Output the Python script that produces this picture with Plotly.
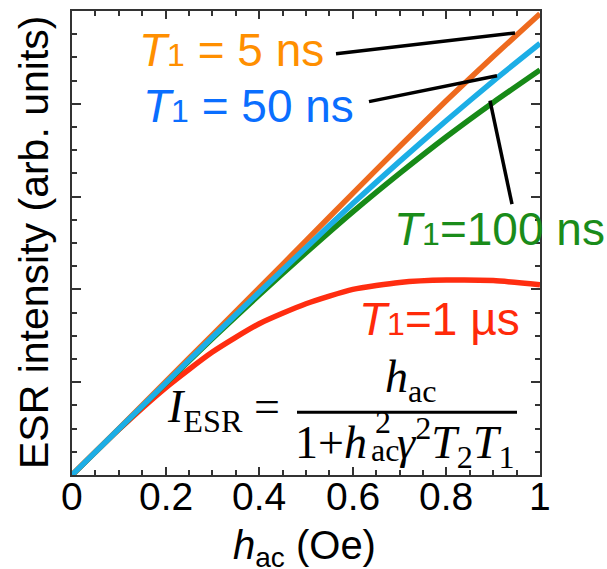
import plotly.graph_objects as go

# ---- data: ESR intensity vs. ac field amplitude for several T1 ----
h_ac = [0.0, 0.1, 0.2, 0.3, 0.4, 0.5, 0.6, 0.7, 0.8, 0.9, 1.0]
esr_5ns = [0.0, 0.100, 0.201, 0.302, 0.403, 0.505, 0.607, 0.708, 0.807, 0.902, 0.994]
esr_50ns = [0.0, 0.099, 0.198, 0.297, 0.394, 0.490, 0.585, 0.676, 0.764, 0.849, 0.930]
esr_100ns = [0.0, 0.099, 0.197, 0.294, 0.388, 0.479, 0.567, 0.650, 0.729, 0.803, 0.873]
esr_1us = [0.0, 0.098, 0.188, 0.265, 0.326, 0.369, 0.400, 0.415, 0.420, 0.419, 0.410]

x_ticks = [0, 0.2, 0.4, 0.6, 0.8, 1]
x_ticktext = ["0", "0.2", "0.4", "0.6", "0.8", "1"]

# ---- styling ----
LINE_ORANGE = "#EE6A1E"
LINE_BLUE = "#1CAEE6"
LINE_GREEN = "#178A17"
LINE_RED = "#FF2D10"
TXT_ORANGE = "#FF8F00"
TXT_BLUE = "#0A6EFF"
TXT_GREEN = "#1A8C1A"
TXT_RED = "#FF2A0A"
AXIS = "#333333"
SANS = "Liberation Sans, Arial, Helvetica, sans-serif"
SERIF = "Liberation Serif, Times New Roman, serif"

W, H = 607, 569
M = dict(l=72, r=67, t=9, b=94)
PW = W - M["l"] - M["r"]
PH = H - M["t"] - M["b"]


def fx(x):
    """figure pixel column -> paper coordinate"""
    return (x - M["l"]) / PW


def fy(y):
    """figure pixel row -> paper coordinate"""
    return (H - M["b"] - y) / PH


fig = go.Figure()

series = [
    ("T1 = 1 µs", esr_1us, LINE_RED),
    ("T1 = 100 ns", esr_100ns, LINE_GREEN),
    ("T1 = 5 ns", esr_5ns, LINE_ORANGE),
    ("T1 = 50 ns", esr_50ns, LINE_BLUE),
]
for name, ys, color in series:
    fig.add_trace(go.Scatter(
        x=h_ac, y=ys, mode="lines", name=name, showlegend=False,
        line=dict(color=color, width=5.5, shape="spline", smoothing=0.6),
    ))

axis_common = dict(
    range=[0, 1], showgrid=False, zeroline=False,
    showline=True, linecolor=AXIS, linewidth=2, mirror="allticks",
    ticks="inside", tickcolor=AXIS, tickwidth=1.5,
    tickmode="linear", tick0=0, dtick=0.2, showticklabels=False,
    minor=dict(dtick=0.05, ticks="inside", ticklen=5, tickwidth=1.5, tickcolor=AXIS),
)

fig.update_layout(
    width=W, height=H, margin=M,
    paper_bgcolor="white", plot_bgcolor="white",
    xaxis=dict(**axis_common, ticklen=8),
    yaxis=dict(**axis_common, ticklen=9),
)


def text(t, x, y, size, color="black", family=SANS, xanchor="left", angle=0):
    fig.add_annotation(
        text=t, x=fx(x), y=fy(y), xref="paper", yref="paper",
        xanchor=xanchor, yanchor="middle", showarrow=False, textangle=angle,
        font=dict(size=size, color=color, family=family), borderpad=0,
    )


def seg(x0, y0, x1, y1, width=3.5):
    fig.add_shape(type="line", xref="paper", yref="paper",
                  x0=fx(x0), y0=fy(y0), x1=fx(x1), y1=fy(y1),
                  line=dict(color="black", width=width))


# x tick labels, placed on the data axis just below the frame
for v, lab in zip(x_ticks, x_ticktext):
    fig.add_annotation(
        text=lab, x=v, y=fy(497), xref="x", yref="paper",
        xanchor="center", yanchor="middle", showarrow=False, borderpad=0,
        font=dict(size=39, color="black", family=SANS),
    )

# axis titles
text("ESR intensity (arb. units)", 34, 242, 41, xanchor="center", angle=-90)
text("<i>h</i><sub>ac</sub> (Oe)", 304, 548, 40, xanchor="center")

# curve labels with leader lines (small index "1" sitting near the baseline)
T1 = "<i>T</i><span style='font-size:32px'>1</span>"
text(T1 + " = 5 ns", 138, 48, 46, TXT_ORANGE)
text(T1 + " = 50 ns", 142, 104, 46, TXT_BLUE)
text(T1 + "=100 ns", 393, 228, 46, TXT_GREEN)
text(T1 + "=1 µs", 358, 318, 46, TXT_RED)
seg(336, 52, 515, 31)
seg(369, 100, 497, 74)
seg(490, 99, 512, 203)

# saturation formula
FS = 46
text("<i>I</i><sub>ESR</sub> =", 166, 410, FS, family=SERIF)
text("<i>h</i><sub>ac</sub>", 384, 380, FS, family=SERIF)
seg(297, 412, 517, 412, width=3)
text("1+<i>h</i>", 294, 442, FS, family=SERIF)
text("2", 374, 422, 32, family=SERIF)
text("ac", 370, 450, 32, family=SERIF)
text("<i>γ</i><sup>2</sup><i>T</i><sub>2</sub><i>T</i><sub>1</sub>", 396, 442, FS, family=SERIF)

fig.write_html("out.html")
